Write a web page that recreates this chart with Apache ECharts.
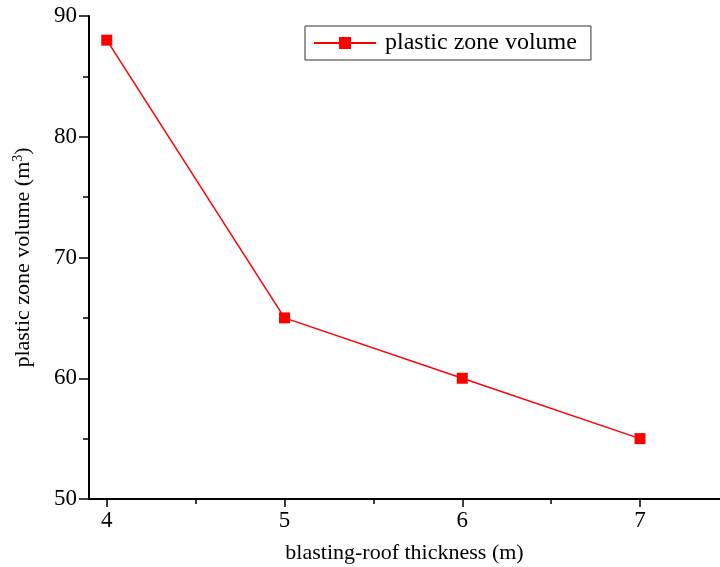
<!DOCTYPE html>
<html>
<head>
<meta charset="utf-8">
<script src="https://cdn.jsdelivr.net/npm/echarts@6/dist/echarts.min.js"></script>
<style>
  html, body { margin: 0; padding: 0; background: #fff; }
  #chart { width: 720px; height: 567px; }
</style>
</head>
<body>
<div id="chart"></div>
<script>
  // data
  var thickness = [4, 5, 6, 7];
  var volume = [88, 65, 60, 55];
  var xTicks = [4, 5, 6, 7];
  var xMinorTicks = [4.5, 5.5, 6.5];

  var font = 'Liberation Serif, Times New Roman, serif';
  var chart = echarts.init(document.getElementById('chart'));

  var option = {
    backgroundColor: '#fff',
    animation: false,
    textStyle: { fontFamily: font },
    grid: { left: 89, top: 16, width: 631, height: 483, outerBoundsMode: 'none', containLabel: false },
    legend: {
      data: ['plastic zone volume'],
      left: 305,
      top: 26,
      padding: [5, 14, 5, 8],
      borderColor: '#333',
      borderWidth: 1,
      itemWidth: 62,
      itemHeight: 15,
      itemGap: 10,
      textStyle: { fontFamily: font, fontSize: 24, color: '#000', padding: [0, 0, 0, 4] }
    },
    xAxis: [{
      type: 'value',
      min: 3.9,
      max: 7.45,
      name: 'blasting-roof thickness (m)',
      nameLocation: 'middle',
      nameGap: 43,
      nameTextStyle: { fontFamily: font, fontSize: 22, color: '#000' },
      axisLine: { show: true, lineStyle: { color: '#000', width: 2 } },
      axisTick: { show: true, length: 8, customValues: xTicks, lineStyle: { color: '#000', width: 1.5 } },
      axisLabel: { customValues: xTicks, fontFamily: font, fontSize: 23, color: '#000', margin: 10 },
      splitLine: { show: false }
    }, {
      type: 'value',
      position: 'bottom',
      min: 3.9,
      max: 7.45,
      axisLine: { show: false },
      axisTick: { show: true, length: 5, customValues: xMinorTicks, lineStyle: { color: '#000', width: 1.5 } },
      axisLabel: { show: false },
      splitLine: { show: false }
    }],
    yAxis: {
      type: 'value',
      min: 50,
      max: 90,
      interval: 10,
      name: '{a|plastic zone volume (m}{s|3}{a|)}',
      nameLocation: 'middle',
      nameGap: 54,
      nameTextStyle: {
        rich: {
          a: { fontFamily: font, fontSize: 22, color: '#000' },
          s: { fontFamily: font, fontSize: 14, color: '#000', verticalAlign: 'top', padding: [0, 0, 10, 0] }
        }
      },
      axisLine: { show: true, lineStyle: { color: '#000', width: 2 } },
      axisTick: { show: true, length: 10, lineStyle: { color: '#000', width: 1.5 } },
      minorTick: { show: true, splitNumber: 2, length: 6, lineStyle: { color: '#000', width: 1.5 } },
      axisLabel: { fontFamily: font, fontSize: 23, color: '#000', margin: 12 },
      splitLine: { show: false }
    },
    series: [{
      name: 'plastic zone volume',
      type: 'line',
      data: thickness.map(function (x, i) { return [x, volume[i]]; }),
      symbol: 'rect',
      symbolSize: 11,
      itemStyle: { color: '#ff0000' },
      lineStyle: { color: '#ff0000', width: 1.5 }
    }]
  };

  chart.setOption(option);
</script>
</body>
</html>
